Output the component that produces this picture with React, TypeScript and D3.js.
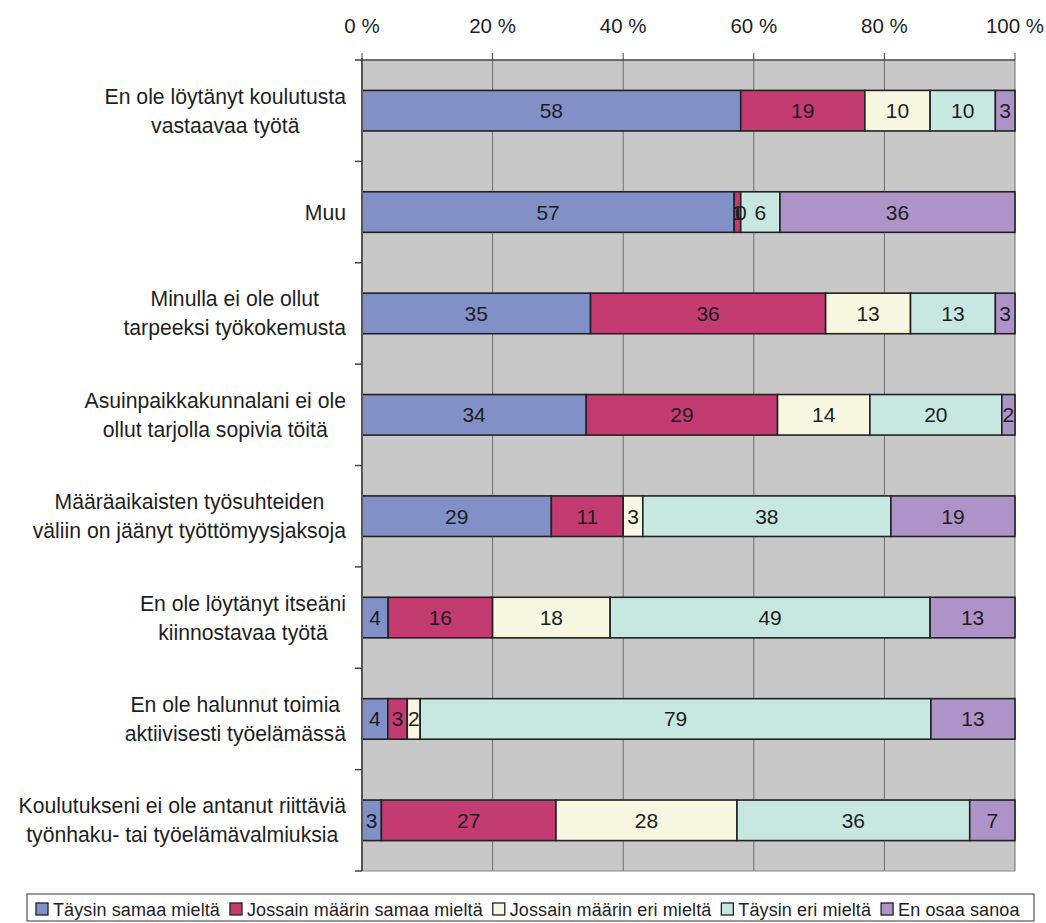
import React, { useEffect, useRef } from 'react';
import * as d3 from 'd3';

const categories: string[][] = [
  ['En ole löytänyt koulutusta', 'vastaavaa työtä'],
  ['Muu'],
  ['Minulla ei ole ollut', 'tarpeeksi työkokemusta'],
  ['Asuinpaikkakunnalani ei ole', 'ollut tarjolla sopivia töitä'],
  ['Määräaikaisten työsuhteiden', 'väliin on jäänyt työttömyysjaksoja'],
  ['En ole löytänyt itseäni', 'kiinnostavaa työtä'],
  ['En ole halunnut toimia', 'aktiivisesti työelämässä'],
  ['Koulutukseni ei ole antanut riittäviä', 'työnhaku- tai työelämävalmiuksia'],
];

const seriesNames = [
  'Täysin samaa mieltä',
  'Jossain määrin samaa mieltä',
  'Jossain määrin eri mieltä',
  'Täysin eri mieltä',
  'En osaa sanoa',
];
const seriesColors = ['#8290c8', '#c43b72', '#f7f7e2', '#c7e8e0', '#ae93c8'];

const taysinSamaa = [58, 57, 35, 34, 29, 4, 4, 3];
const jossainSamaa = [19, 1, 36, 29, 11, 16, 3, 27];
const jossainEri = [10, 0, 13, 14, 3, 18, 2, 28];
const taysinEri = [10, 6, 13, 20, 38, 49, 79, 36];
const enOsaa = [3, 36, 3, 2, 19, 13, 13, 7];

const xTicks = [0, 20, 40, 60, 80, 100];

const FONT = '"Liberation Sans", Arial, Helvetica, sans-serif';

export default function App() {
  const ref = useRef<SVGSVGElement>(null);

  useEffect(() => {
    const svg = d3.select(ref.current);
    svg.selectAll('*').remove();

    const left = 362, right = 1015, top = 60, bottom = 871;
    const keys = ['s0', 's1', 's2', 's3', 's4'];
    const series = [taysinSamaa, jossainSamaa, jossainEri, taysinEri, enOsaa];
    const rows = categories.map((_, i) => {
      const r: any = { idx: i };
      keys.forEach((k, j) => (r[k] = series[j][i]));
      return r;
    });
    const stacked = d3.stack<any>().keys(keys).offset(d3.stackOffsetExpand)(rows);

    const x = d3.scaleLinear().domain([0, 100]).range([left, right]);
    const xs = d3.scaleLinear().domain([0, 1]).range([left, right]);
    const y = d3
      .scaleBand<number>()
      .domain(d3.range(categories.length))
      .range([top, bottom])
      .paddingInner(0.6)
      .paddingOuter(0.3);

    // plot background
    svg.append('rect')
      .attr('x', left).attr('y', top)
      .attr('width', right - left).attr('height', bottom - top)
      .attr('fill', '#c8c8c9');

    // gridlines
    svg.append('g').selectAll('line')
      .data(xTicks.filter((d) => d > 0))
      .join('line')
      .attr('x1', (d) => x(d)).attr('x2', (d) => x(d))
      .attr('y1', top).attr('y2', bottom)
      .attr('stroke', '#6e6e6e').attr('stroke-width', 1);

    // bottom line
    svg.append('line')
      .attr('x1', left).attr('x2', right).attr('y1', bottom).attr('y2', bottom)
      .attr('stroke', '#8a8a8a').attr('stroke-width', 1);

    // bars
    const g = svg.append('g');
    stacked.forEach((s, si) => {
      g.append('g').selectAll('rect')
        .data(s)
        .join('rect')
        .attr('x', (d) => xs(d[0]))
        .attr('y', (d: any) => y(d.data.idx)!)
        .attr('width', (d) => xs(d[1]) - xs(d[0]))
        .attr('height', y.bandwidth())
        .attr('fill', seriesColors[si])
        .attr('stroke', '#222')
        .attr('stroke-width', 1.6);
    });
    stacked.forEach((s, si) => {
      g.append('g').selectAll('text')
        .data(s)
        .join('text')
        .attr('x', (d) => (xs(d[0]) + xs(d[1])) / 2)
        .attr('y', (d: any) => y(d.data.idx)! + y.bandwidth() / 2)
        .attr('text-anchor', 'middle')
        .attr('dominant-baseline', 'central')
        .attr('font-family', FONT)
        .attr('font-size', 21)
        .attr('fill', '#1e1e1e')
        .text((d: any) => series[si][d.data.idx]);
    });

    // left axis
    svg.append('line')
      .attr('x1', left).attr('x2', left).attr('y1', top - 2).attr('y2', bottom)
      .attr('stroke', '#555').attr('stroke-width', 2);
    const bounds = d3.range(categories.length + 1).map((i) => top + i * y.step());
    svg.append('g').selectAll('line')
      .data(bounds)
      .join('line')
      .attr('x1', left - 7).attr('x2', left)
      .attr('y1', (d) => d).attr('y2', (d) => d)
      .attr('stroke', '#444').attr('stroke-width', 1.5);

    // top axis
    svg.append('line')
      .attr('x1', left).attr('x2', right).attr('y1', top).attr('y2', top)
      .attr('stroke', '#444').attr('stroke-width', 1.6);
    svg.append('g').selectAll('line')
      .data(xTicks)
      .join('line')
      .attr('x1', (d) => x(d)).attr('x2', (d) => x(d))
      .attr('y1', top - 7).attr('y2', top)
      .attr('stroke', '#444').attr('stroke-width', 1);
    svg.append('g').selectAll('text')
      .data(xTicks)
      .join('text')
      .attr('x', (d) => x(d))
      .attr('y', 33)
      .attr('text-anchor', 'middle')
      .attr('font-family', FONT)
      .attr('font-size', 20.5)
      .attr('fill', '#1e1e1e')
      .text((d) => `${d} %`);

    // category labels
    categories.forEach((lines, i) => {
      const cy = y(i)! + y.bandwidth() / 2;
      const grp = svg.append('g');
      const texts = lines.map((ln, li) =>
        grp.append('text')
          .attr('y', cy + (li - (lines.length - 1) / 2) * 29)
          .attr('text-anchor', 'middle')
          .attr('dominant-baseline', 'central')
          .attr('font-family', FONT)
          .attr('font-size', 21.2)
          .attr('fill', '#1e1e1e')
          .text(ln)
      );
      const maxW = d3.max(texts, (t) => (t.node() as SVGTextElement).getComputedTextLength()) || 0;
      texts.forEach((t) => t.attr('x', 346 - maxW / 2));
    });

    // legend
    const lg = svg.append('g');
    lg.append('rect')
      .attr('x', 27).attr('y', 894).attr('width', 1007).attr('height', 27)
      .attr('fill', '#fff').attr('stroke', '#333').attr('stroke-width', 1);
    let cx = 36;
    seriesNames.forEach((name, i) => {
      lg.append('rect')
        .attr('x', cx).attr('y', 903).attr('width', 12).attr('height', 12)
        .attr('fill', seriesColors[i]).attr('stroke', '#222').attr('stroke-width', 1.3);
      const t = lg.append('text')
        .attr('x', cx + 17).attr('y', 916)
        .attr('font-family', FONT)
        .attr('font-size', 18)
        .attr('letter-spacing', 0.1)
        .attr('fill', '#1e1e1e')
        .text(name);
      const w = (t.node() as SVGTextElement).getComputedTextLength();
      cx += 17 + w + 10;
    });
  }, []);

  return (
    <svg
      ref={ref}
      width={1046}
      height={923}
      style={{ position: 'absolute', left: 0, top: 0, background: '#fff' }}
    />
  );
}
